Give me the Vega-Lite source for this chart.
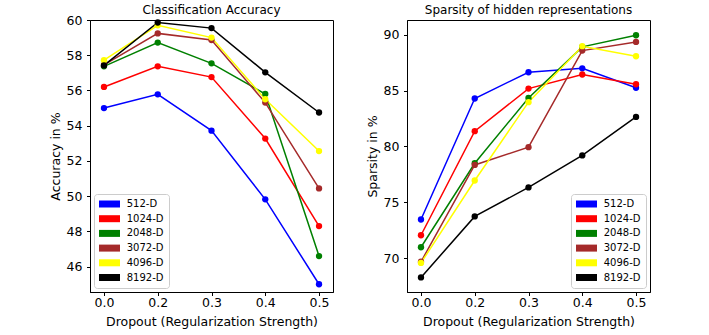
{
  "$schema": "https://vega.github.io/schema/vega-lite/v6.json",
  "padding": {"left": 48, "top": 3, "right": 5, "bottom": 5},
  "background": "white",
  "datasets": {
    "acc": [
      {"series": "512-D", "dropout": "0.0", "value": 55.0},
      {"series": "512-D", "dropout": "0.2", "value": 55.78},
      {"series": "512-D", "dropout": "0.3", "value": 53.72},
      {"series": "512-D", "dropout": "0.4", "value": 49.82},
      {"series": "512-D", "dropout": "0.5", "value": 45.0},
      {"series": "1024-D", "dropout": "0.0", "value": 56.2},
      {"series": "1024-D", "dropout": "0.2", "value": 57.37},
      {"series": "1024-D", "dropout": "0.3", "value": 56.76},
      {"series": "1024-D", "dropout": "0.4", "value": 53.27},
      {"series": "1024-D", "dropout": "0.5", "value": 48.3},
      {"series": "2048-D", "dropout": "0.0", "value": 57.37},
      {"series": "2048-D", "dropout": "0.2", "value": 58.72},
      {"series": "2048-D", "dropout": "0.3", "value": 57.54},
      {"series": "2048-D", "dropout": "0.4", "value": 55.8},
      {"series": "2048-D", "dropout": "0.5", "value": 46.6},
      {"series": "3072-D", "dropout": "0.0", "value": 57.45},
      {"series": "3072-D", "dropout": "0.2", "value": 59.24},
      {"series": "3072-D", "dropout": "0.3", "value": 58.86},
      {"series": "3072-D", "dropout": "0.4", "value": 55.31},
      {"series": "3072-D", "dropout": "0.5", "value": 50.44},
      {"series": "4096-D", "dropout": "0.0", "value": 57.72},
      {"series": "4096-D", "dropout": "0.2", "value": 59.7},
      {"series": "4096-D", "dropout": "0.3", "value": 59.0},
      {"series": "4096-D", "dropout": "0.4", "value": 55.5},
      {"series": "4096-D", "dropout": "0.5", "value": 52.56},
      {"series": "8192-D", "dropout": "0.0", "value": 57.42},
      {"series": "8192-D", "dropout": "0.2", "value": 59.86},
      {"series": "8192-D", "dropout": "0.3", "value": 59.54},
      {"series": "8192-D", "dropout": "0.4", "value": 57.03},
      {"series": "8192-D", "dropout": "0.5", "value": 54.75}
    ],
    "spa": [
      {"series": "512-D", "dropout": "0.0", "value": 73.48},
      {"series": "512-D", "dropout": "0.2", "value": 84.29},
      {"series": "512-D", "dropout": "0.3", "value": 86.63},
      {"series": "512-D", "dropout": "0.4", "value": 86.98},
      {"series": "512-D", "dropout": "0.5", "value": 85.25},
      {"series": "1024-D", "dropout": "0.0", "value": 72.07},
      {"series": "1024-D", "dropout": "0.2", "value": 81.37},
      {"series": "1024-D", "dropout": "0.3", "value": 85.17},
      {"series": "1024-D", "dropout": "0.4", "value": 86.43},
      {"series": "1024-D", "dropout": "0.5", "value": 85.56},
      {"series": "2048-D", "dropout": "0.0", "value": 71.0},
      {"series": "2048-D", "dropout": "0.2", "value": 78.5},
      {"series": "2048-D", "dropout": "0.3", "value": 84.34},
      {"series": "2048-D", "dropout": "0.4", "value": 88.9},
      {"series": "2048-D", "dropout": "0.5", "value": 89.94},
      {"series": "3072-D", "dropout": "0.0", "value": 69.7},
      {"series": "3072-D", "dropout": "0.2", "value": 78.35},
      {"series": "3072-D", "dropout": "0.3", "value": 79.94},
      {"series": "3072-D", "dropout": "0.4", "value": 88.57},
      {"series": "3072-D", "dropout": "0.5", "value": 89.34},
      {"series": "4096-D", "dropout": "0.0", "value": 69.6},
      {"series": "4096-D", "dropout": "0.2", "value": 76.96},
      {"series": "4096-D", "dropout": "0.3", "value": 83.96},
      {"series": "4096-D", "dropout": "0.4", "value": 88.96},
      {"series": "4096-D", "dropout": "0.5", "value": 88.06},
      {"series": "8192-D", "dropout": "0.0", "value": 68.3},
      {"series": "8192-D", "dropout": "0.2", "value": 73.75},
      {"series": "8192-D", "dropout": "0.3", "value": 76.34},
      {"series": "8192-D", "dropout": "0.4", "value": 79.2},
      {"series": "8192-D", "dropout": "0.5", "value": 82.64}
    ]
  },
  "config": {
    "font": "DejaVu Sans",
    "view": {"stroke": "black", "strokeWidth": 1},
    "axis": {
      "domainColor": "black", "tickColor": "black", "labelColor": "black", "titleColor": "black",
      "grid": false, "tickSize": 3.5, "labelFontSize": 12.5, "titleFontSize": 12.5,
      "titleFontWeight": "normal", "labelFont": "DejaVu Sans", "titleFont": "DejaVu Sans"
    },
    "title": {"fontSize": 12, "fontWeight": "normal", "font": "DejaVu Sans", "color": "black"},
    "legend": {
      "symbolType": "M-1,-0.7H3.2V0.7H-1Z", "symbolSize": 100, "symbolStrokeWidth": 0,
      "symbolOpacity": 1, "labelFontSize": 10, "labelFont": "DejaVu Sans", "labelColor": "black",
      "labelOffset": 17.7, "rowPadding": 4.7, "padding": 5, "fillColor": "white",
      "strokeColor": "#cccccc", "cornerRadius": 3, "offset": 4
    }
  },
  "spacing": 31,
  "resolve": {"scale": {"color": "independent"}, "legend": {"color": "independent"}},
  "hconcat": [
    {
      "title": {"text": "Classification Accuracy", "offset": -3},
      "width": 243, "height": 272,
      "data": {"name": "acc"},
      "encoding": {
        "x": {"field": "dropout", "type": "ordinal",
          "scale": {"type": "point", "padding": 0.26, "domain": ["0.0", "0.2", "0.3", "0.4", "0.5"]},
          "axis": {"labelAngle": 0, "title": "Dropout (Regularization Strength)", "labelPadding": 1, "titlePadding": 6}},
        "y": {"field": "value", "type": "quantitative",
          "scale": {"domain": [44.56, 60], "nice": false, "zero": false},
          "axis": {"values": [46, 48, 50, 52, 54, 56, 58, 60], "title": "Accuracy in %", "labelPadding": 4.5, "minExtent": 25, "maxExtent": 25, "titlePadding": 3}},
        "color": {"field": "series", "type": "nominal",
          "legend": {"orient": "bottom-left", "title": null},
          "scale": {"domain": ["512-D", "1024-D", "2048-D", "3072-D", "4096-D", "8192-D"], "range": ["#0000ff", "#ff0000", "#008000", "#a52a2a", "#ffff00", "#000000"]}}
      },
      "layer": [
        {"mark": {"type": "line", "strokeWidth": 1.5}},
        {"mark": {"type": "point", "filled": true, "size": 40, "opacity": 1}}
      ]
    },
    {
      "title": {"text": "Sparsity of hidden representations", "offset": 3.5},
      "width": 243, "height": 272,
      "data": {"name": "spa"},
      "encoding": {
        "x": {"field": "dropout", "type": "ordinal",
          "scale": {"type": "point", "padding": 0.26, "domain": ["0.0", "0.2", "0.3", "0.4", "0.5"]},
          "axis": {"labelAngle": 0, "title": "Dropout (Regularization Strength)", "labelPadding": 1, "titlePadding": 6}},
        "y": {"field": "value", "type": "quantitative",
          "scale": {"domain": [67, 91.3], "nice": false, "zero": false},
          "axis": {"values": [70, 75, 80, 85, 90], "title": "Sparsity in %", "labelPadding": 4.5, "minExtent": 25, "maxExtent": 25, "titlePadding": 3}},
        "color": {"field": "series", "type": "nominal",
          "legend": {"orient": "bottom-right", "title": null},
          "scale": {"domain": ["512-D", "1024-D", "2048-D", "3072-D", "4096-D", "8192-D"], "range": ["#0000ff", "#ff0000", "#008000", "#a52a2a", "#ffff00", "#000000"]}}
      },
      "layer": [
        {"mark": {"type": "line", "strokeWidth": 1.5}},
        {"mark": {"type": "point", "filled": true, "size": 40, "opacity": 1}}
      ]
    }
  ]
}
